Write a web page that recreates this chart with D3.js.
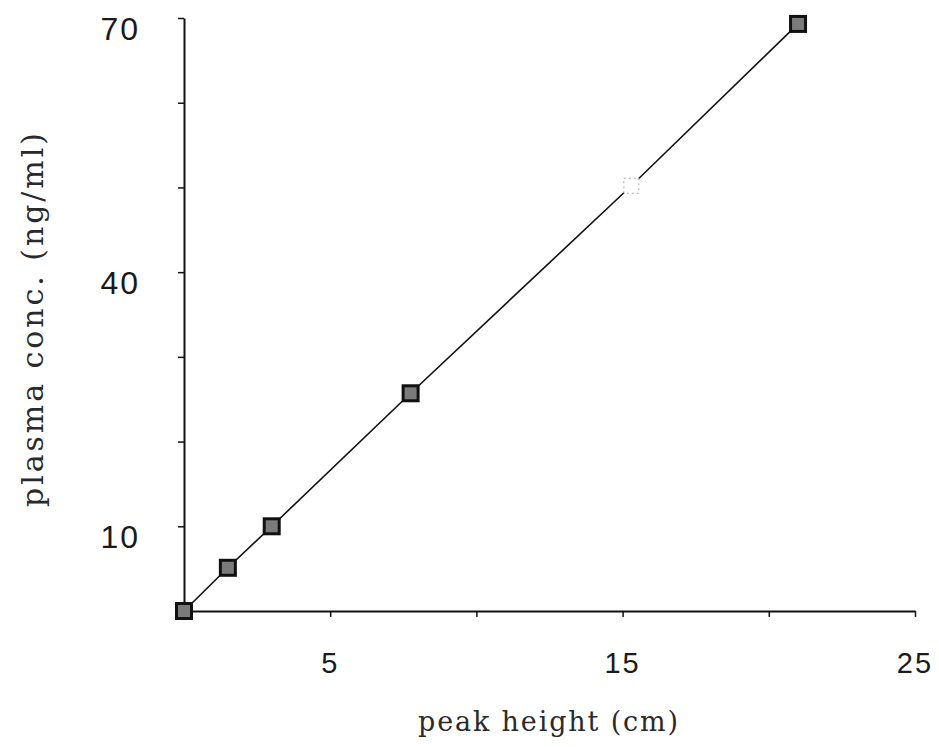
<!DOCTYPE html>
<html>
<head>
<meta charset="utf-8">
<script src="https://cdn.jsdelivr.net/npm/d3@7"></script>
<style>
  body { margin: 0; background: #fff; }
  .tick-label { font-family: "Liberation Sans", Arial, sans-serif; fill: #1a1a1a; letter-spacing: 2px; }
  .axis-title { font-family: "DejaVu Serif", serif; fill: #2a2a2a; }
</style>
</head>
<body>
<svg id="chart"></svg>
<script>
// peak height (cm) vs plasma concentration (ng/ml)
const peakHeight = [0, 1.5, 3.0, 7.75, 15.3, 21.0];
const plasmaConc = [0, 5.1, 10.0, 25.7, 50.2, 69.3];

const xTicks = [5, 10, 15, 20, 25];
const xTickLabels = [5, 15, 25];
const yTicks = [10, 20, 30, 40, 50, 60, 70];
const yTickLabels = [10, 40, 70];

const width = 939, height = 747;
const x0 = 184, x1 = 915, y0 = 611, y1 = 18;

const svg = d3.select("#chart")
    .attr("width", width)
    .attr("height", height);

const xScale = d3.scaleLinear().domain([0, 25]).range([x0, x1]);
const yScale = d3.scaleLinear().domain([0, 70]).range([y0, y1]);

// axes, labels placed separately below
const xAxis = svg.append("g")
    .attr("transform", `translate(0,${y0})`)
    .call(d3.axisBottom(xScale).tickValues(xTicks).tickSize(6).tickSizeOuter(0).tickFormat(""));
const yAxis = svg.append("g")
    .attr("transform", `translate(${x0},0)`)
    .call(d3.axisLeft(yScale).tickValues(yTicks).tickSize(6).tickSizeOuter(0).tickFormat(""));

[xAxis, yAxis].forEach(g => {
    g.select(".domain").attr("stroke", "#111").attr("stroke-width", 2);
    g.selectAll(".tick line").attr("stroke", "#111").attr("stroke-width", 1.5);
});

svg.selectAll(".x-label")
    .data(xTickLabels)
    .join("text")
    .attr("class", "tick-label x-label")
    .attr("x", d => xScale(d))
    .attr("y", y0 + 62)
    .attr("text-anchor", "middle")
    .style("font-size", "29px")
    .text(d => d);

svg.selectAll(".y-label")
    .data(yTickLabels)
    .join("text")
    .attr("class", "tick-label y-label")
    .attr("x", 140)
    .attr("y", d => yScale(d) + 22)
    .attr("text-anchor", "end")
    .style("font-size", "32px")
    .text(d => d);

svg.append("text")
    .attr("class", "axis-title")
    .attr("x", 418)
    .attr("y", 731)
    .attr("textLength", 260)
    .attr("lengthAdjust", "spacing")
    .style("font-size", "27px")
    .text("peak height (cm)");

svg.append("text")
    .attr("class", "axis-title")
    .attr("transform", "translate(43,507) rotate(-90)")
    .attr("textLength", 374)
    .attr("lengthAdjust", "spacing")
    .style("font-size", "30px")
    .text("plasma conc. (ng/ml)");

const points = peakHeight.map((d, i) => ({ x: d, y: plasmaConc[i] }));

const line = d3.line()
    .x(d => xScale(d.x))
    .y(d => yScale(d.y));

svg.append("path")
    .datum(points)
    .attr("d", line)
    .attr("fill", "none")
    .attr("stroke", "#111")
    .attr("stroke-width", 1.6);

const s = 15;
svg.selectAll(".marker")
    .data(points)
    .join("rect")
    .attr("class", "marker")
    .attr("x", d => xScale(d.x) - s / 2)
    .attr("y", d => yScale(d.y) - s / 2)
    .attr("width", s)
    .attr("height", s)
    .attr("fill", (d, i) => i === 4 ? "#fff" : "#7a7a7a")
    .attr("stroke", (d, i) => i === 4 ? "#aaa" : "#111")
    .attr("stroke-dasharray", (d, i) => i === 4 ? "2,3" : null)
    .attr("stroke-width", (d, i) => i === 4 ? 1 : 3);
</script>
</body>
</html>
